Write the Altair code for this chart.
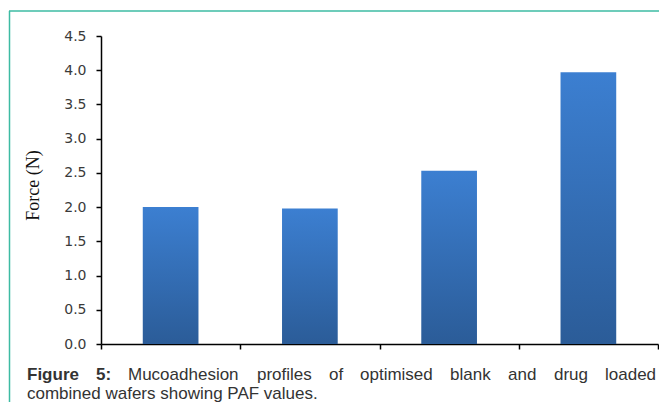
import altair as alt
import pandas as pd

# ---- data ----
samples = ["Blank 1", "Blank 2", "Loaded 1", "Loaded 2"]
force = [2.00, 1.98, 2.53, 3.97]
y_ticks = [0.0, 0.5, 1.0, 1.5, 2.0, 2.5, 3.0, 3.5, 4.0, 4.5]

caption_bold = ["Figure", "5:"]
caption_line1 = ["Mucoadhesion", "profiles", "of", "optimised", "blank", "and", "drug", "loaded"]
caption_line2 = "combined wafers showing PAF values."

df = pd.DataFrame({"sample": samples, "force": force})

grad = alt.Gradient(
    gradient="linear",
    stops=[alt.GradientStop(color="#3c7fd1", offset=0),
           alt.GradientStop(color="#2b5c98", offset=1)],
    x1=0, x2=0, y1=0, y2=1,
)

bars = alt.Chart(df).mark_bar(color=grad, width=alt.RelativeBandSize(0.4)).encode(
    x=alt.X(
        "sample:N", sort=samples,
        scale=alt.Scale(paddingInner=0, paddingOuter=0),
        axis=alt.Axis(labels=False, title=None, tickBand="extent",
                      domainColor="black", tickColor="black",
                      domainWidth=1.5, tickWidth=1.5, tickSize=5, grid=False),
    ),
    y=alt.Y(
        "force:Q",
        scale=alt.Scale(domain=[0, 4.5], nice=False, zero=True),
        axis=alt.Axis(values=y_ticks, format=".1f", title="Force (N)", grid=False,
                      domainColor="black", tickColor="black",
                      domainWidth=1.5, tickWidth=1.5, tickSize=5,
                      labelFont="DejaVu Sans", labelFontSize=14, labelColor="#3a3a3a",
                      labelPadding=10,
                      titleFont="Liberation Serif", titleFontSize=18,
                      titleFontWeight="normal", titleColor="#111111",
                      titleAngle=270, titleAlign="center", titleBaseline="middle",
                      titleX=-68, titleY=149),
    ),
)

layers = [bars]

# frame lines (teal border of the figure box)
frame_color = "#3dbba3"
one = pd.DataFrame({"k": [0]})
layers.append(alt.Chart(one).mark_rule(color=frame_color, strokeWidth=1.5).encode(
    x=alt.value(-91.5), y=alt.value(-25), y2=alt.value(370)))
layers.append(alt.Chart(one).mark_rule(color=frame_color, strokeWidth=1.5).encode(
    x=alt.value(-92), x2=alt.value(560), y=alt.value(-25)))

# caption, line 1 (justified: each word placed)
text_color = "#333333"
cap_font = "Liberation Sans"
cap_size = 17
bold_x = [-74, -5]
for w, xv in zip(caption_bold, bold_x):
    layers.append(alt.Chart(pd.DataFrame({"w": [w]})).mark_text(
        font=cap_font, fontSize=cap_size, fontWeight="bold", color=text_color,
        align="left", baseline="alphabetic").encode(
        x=alt.value(xv), y=alt.value(344), text="w:N"))

line1_x = [27, 156, 228, 259, 349, 407, 453, 504]
for w, xv in zip(caption_line1, line1_x):
    layers.append(alt.Chart(pd.DataFrame({"w": [w]})).mark_text(
        font=cap_font, fontSize=cap_size, color=text_color,
        align="left", baseline="alphabetic").encode(
        x=alt.value(xv), y=alt.value(344), text="w:N"))

layers.append(alt.Chart(pd.DataFrame({"w": [caption_line2]})).mark_text(
    font=cap_font, fontSize=cap_size, color=text_color,
    align="left", baseline="alphabetic").encode(
    x=alt.value(-74), y=alt.value(363), text="w:N"))

chart = alt.layer(*layers).properties(
    width=557, height=308,
    autosize=alt.AutoSizeParams(type="none"),
    padding={"left": 93, "top": 28, "right": 1, "bottom": 58},
).configure_view(stroke=None)

chart.save("out.html", embed_options={"renderer": "svg", "actions": False})
